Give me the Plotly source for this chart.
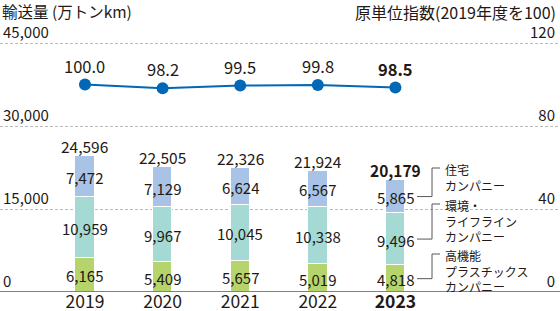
import plotly.graph_objects as go

years = ["2019", "2020", "2021", "2022", "2023"]
plastics = [6165, 5409, 5657, 5019, 4818]
lifeline = [10959, 9967, 10045, 10338, 9496]
housing = [7472, 7129, 6624, 6567, 5865]
totals = [24596, 22505, 22326, 21924, 20179]
index_vals = [100.0, 98.2, 99.5, 99.8, 98.5]

left_ticks = [0, 15000, 30000, 45000]
left_ticktext = ["0", "15,000", "30,000", "45,000"]
right_ticks = [0, 40, 80, 120]
right_ticktext = ["0", "40", "80", "120"]

series_names = ["高機能<br>プラスチックス<br>カンパニー", "環境・<br>ライフライン<br>カンパニー", "住宅<br>カンパニー"]
colors = ["#b5d46b", "#a5dad4", "#a8c3e6"]
line_color = "#0068b7"
text_color = "#231815"
FONT = "Noto Sans CJK JP"

W, H = 560, 311
T, B, L, R = 20, 19, 0, 2
BASE_PX = H - B          # pixel row of the value 0
TOP45_PX = 43            # pixel row of the 45,000 grid line
plot_h = H - T - B
YMAX = 45000 * plot_h / (BASE_PX - TOP45_PX)
Y2MAX = 120 * plot_h / (BASE_PX - TOP45_PX)
XR = [-1.095, 6.095]


def px_to_y(py):
    return (BASE_PX - py) * YMAX / plot_h


def px_to_x(px):
    return XR[0] + (px - L) * (XR[1] - XR[0]) / (W - L - R)


fig = go.Figure()
stack = [plastics, lifeline, housing]
for vals, c, n in zip(stack, colors, series_names):
    fig.add_trace(go.Bar(
        x=list(range(len(years))), y=vals, name=n,
        marker=dict(color=c, line=dict(color="white", width=1)),
        width=0.25, hoverinfo="skip", showlegend=False))

fig.add_trace(go.Scatter(
    x=list(range(len(years))), y=index_vals, yaxis="y2", mode="lines+markers",
    line=dict(color=line_color, width=2), marker=dict(size=12, color=line_color),
    showlegend=False, hoverinfo="skip"))

annotations = []
mids_2023 = []
for i, y in enumerate(years):
    base = 0
    bold = (y == "2023")
    for vals in stack:
        v = vals[i]
        mid = base + v / 2
        if bold:
            mids_2023.append(mid)
        annotations.append(dict(
            x=i, y=mid, xref="x", yref="y", text=f"{v:,}", showarrow=False,
            font=dict(size=15, color=text_color, family=FONT), yshift=-1))
        base += v
    t = f"{totals[i]:,}"
    if bold:
        t = f"<b>{t}</b>"
    annotations.append(dict(
        x=i, y=totals[i], xref="x", yref="y", text=t, showarrow=False,
        yanchor="bottom", yshift=-3,
        font=dict(size=15.5, color=text_color, family=FONT)))
    lt = f"{index_vals[i]:.1f}"
    if bold:
        lt = f"<b>{lt}</b>"
    annotations.append(dict(
        x=i, y=index_vals[i], xref="x", yref="y2", text=lt, showarrow=False,
        yanchor="bottom", yshift=5,
        font=dict(size=16.5, color=text_color, family=FONT)))

# titles
annotations.append(dict(x=0, y=1, xref="paper", yref="paper", xanchor="left", yanchor="top",
                        yshift=T + 2, text="輸送量 (万トンkm)", showarrow=False,
                        font=dict(size=15.5, color=text_color, family=FONT)))
annotations.append(dict(x=1, y=1, xref="paper", yref="paper", xanchor="right", yanchor="top",
                        yshift=T + 2, text="原単位指数(2019年度を100)", showarrow=False,
                        font=dict(size=16, color=text_color, family=FONT)))

# legend brackets
hook_px = [254, 204, 168]
x0 = px_to_x(417)
x1 = px_to_x(432)
x2 = px_to_x(440)
xt = px_to_x(443)
shapes = []
for mid, hp, name in zip(mids_2023, hook_px, series_names):
    hy = px_to_y(hp)
    shapes.append(dict(type="path", xref="x", yref="y",
                       path=f"M {x0},{mid} L {x1},{mid} L {x1},{hy} L {x2},{hy}",
                       line=dict(color="#595757", width=1)))
    annotations.append(dict(x=xt, y=hy, xref="x", yref="y", xanchor="left", yanchor="top",
                            yshift=9, text=name, align="left", showarrow=False,
                            font=dict(size=12, color=text_color, family=FONT)))

shapes.append(dict(type="line", xref="paper", yref="y", x0=0, x1=1.01, y0=0, y1=0,
                   line=dict(color="#595757", width=1.5)))

fig.update_layout(
    width=W, height=H, margin=dict(l=L, r=R, t=T, b=B, autoexpand=False),
    paper_bgcolor="white", plot_bgcolor="white",
    barmode="stack", bargap=0,
    font=dict(family=FONT, color=text_color),
    xaxis=dict(range=XR, tickvals=list(range(len(years))),
               ticktext=[("<b>2023</b>" if y == "2023" else y) for y in years],
               tickfont=dict(size=17.5, color=text_color, family=FONT), automargin=False,
               ticklabelstandoff=-3,
               showgrid=False, zeroline=False, showline=False, ticks="", ticklen=0),
    yaxis=dict(range=[0, YMAX], tickvals=left_ticks, ticktext=left_ticktext,
               ticklabelposition="inside top", showgrid=True, gridcolor="#bbbbbb",
               griddash="3px,2px", gridwidth=1, zeroline=False, showline=False,
               automargin=False,
               tickfont=dict(size=15, color=text_color, family=FONT)),
    yaxis2=dict(range=[0, Y2MAX], tickvals=right_ticks, ticktext=right_ticktext,
                overlaying="y", side="right", ticklabelposition="inside top",
                showgrid=False, zeroline=False, showline=False, automargin=False,
                tickfont=dict(size=15, color=text_color, family=FONT)),
    annotations=annotations, shapes=shapes,
)

fig.write_html("out.html")
